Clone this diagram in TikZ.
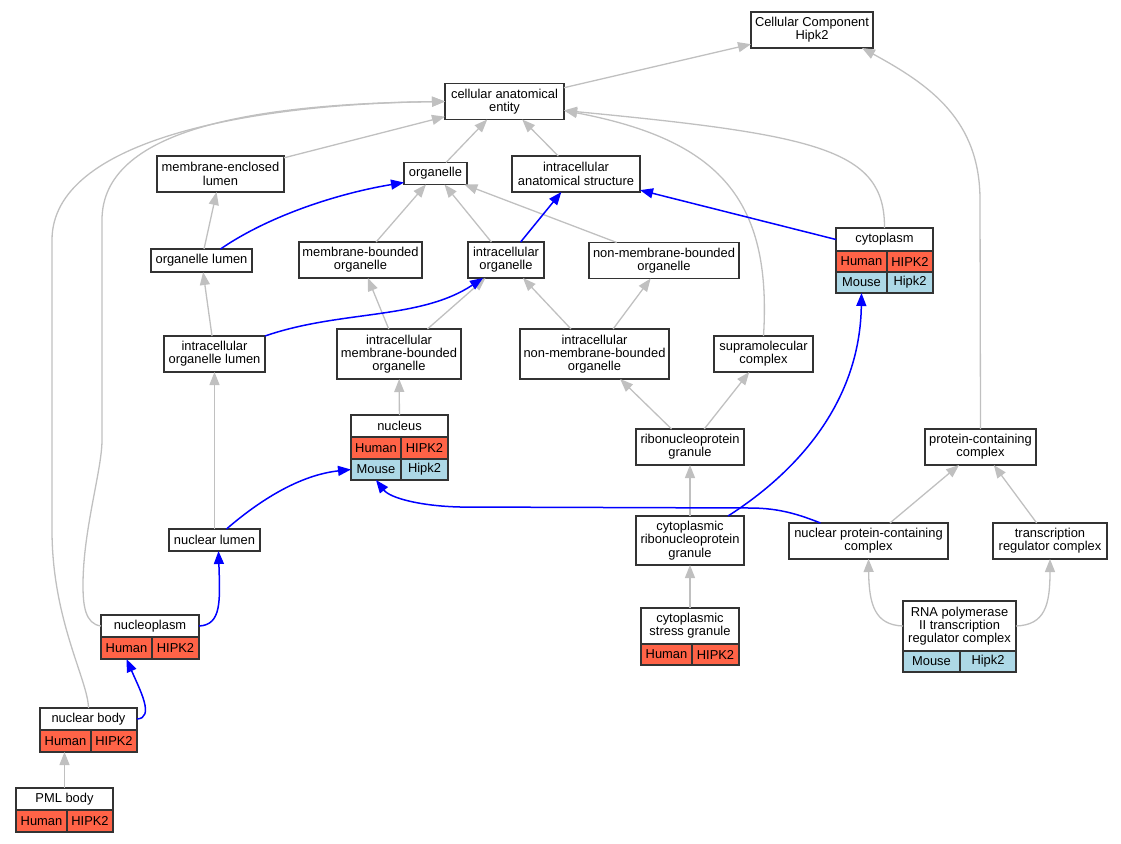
\documentclass[tikz,border=0pt]{standalone}
\usepackage{fontspec}
\setmainfont{Liberation Sans}
\usetikzlibrary{arrows.meta,positioning}
\definecolor{humanred}{HTML}{FF6347}
\definecolor{mouseblue}{HTML}{ADD8E6}
\definecolor{isagray}{HTML}{C0C0C0}
\tikzset{
    term/.style={draw=black!80, line width=1.3pt, fill=white, align=center, inner sep=0pt, outer sep=0pt, font=\fontsize{12.9}{13.3}\selectfont},
    humancell/.style={term, fill=humanred, minimum height=22pt},
    mousecell/.style={term, fill=mouseblue, minimum height=21pt},
    isa/.style={color=isagray, line width=1.3pt, -{Triangle[length=13pt,width=10pt]}},
    partof/.style={color=blue, line width=1.5pt, -{Triangle[length=13pt,width=10pt]}},
}
\begin{document}
\begin{tikzpicture}[x=1pt,y=-1pt]
    \useasboundingbox (0,0) rectangle (1121,843);

    \node[term, minimum width=122pt, minimum height=36pt] (cc) at (812,30) {Cellular Component\\Hipk2};
    \node[term, minimum width=119pt, minimum height=36pt] (entity) at (504.5,101.5) {cellular anatomical\\entity};
    \node[term, minimum width=63pt, minimum height=22pt] (organelle) at (435.5,173.5) {organelle};
    \node[term, minimum width=128pt, minimum height=36pt] (ias) at (576,174) {intracellular\\anatomical structure};
    \node[term, minimum width=127pt, minimum height=36pt] (mel) at (220.5,174) {membrane-enclosed\\lumen};
    \node[term, minimum width=101pt, minimum height=23pt] (olumen) at (201.5,260.5) {organelle lumen};
    \node[term, minimum width=123pt, minimum height=36pt] (mbo) at (360.5,260) {membrane-bounded\\organelle};
    \node[term, minimum width=76pt, minimum height=36pt] (io) at (506,260) {intracellular\\organelle};
    \node[term, minimum width=150pt, minimum height=36pt] (nmbo) at (664,260.5) {non-membrane-bounded\\organelle};
    \node[term, minimum width=97pt, minimum height=23pt] (cytoplasm) at (884.5,239.5) {cytoplasm};
    \node[humancell, minimum width=51pt, minimum height=21pt, anchor=north west] (cytoplasm-h1) at (cytoplasm.south west) {Human};
    \node[humancell, minimum width=46pt, minimum height=21pt, anchor=north west] (cytoplasm-h2) at (cytoplasm-h1.north east) {HIPK2};
    \node[mousecell, minimum width=51pt, anchor=north west] (cytoplasm-m1) at (cytoplasm-h1.south west) {Mouse};
    \node[mousecell, minimum width=46pt, anchor=north west] (cytoplasm-m2) at (cytoplasm-m1.north east) {Hipk2};
    \node[term, minimum width=101pt, minimum height=36pt] (iol) at (214.5,354) {intracellular\\organelle lumen};
    \node[term, minimum width=124pt, minimum height=50pt] (imbo) at (399,354) {intracellular\\membrane-bounded\\organelle};
    \node[term, minimum width=149pt, minimum height=50pt] (inmbo) at (594.5,354) {intracellular\\non-membrane-bounded\\organelle};
    \node[term, minimum width=99pt, minimum height=36pt] (supra) at (763.5,354) {supramolecular\\complex};
    \node[term, minimum width=97pt, minimum height=22pt] (nucleus) at (399.5,426) {nucleus};
    \node[humancell, minimum width=50pt, anchor=north west] (nucleus-h1) at (nucleus.south west) {Human};
    \node[humancell, minimum width=47pt, anchor=north west] (nucleus-h2) at (nucleus-h1.north east) {HIPK2};
    \node[mousecell, minimum width=50pt, anchor=north west] (nucleus-m1) at (nucleus-h1.south west) {Mouse};
    \node[mousecell, minimum width=47pt, anchor=north west] (nucleus-m2) at (nucleus-m1.north east) {Hipk2};
    \node[term, minimum width=108pt, minimum height=36pt] (rnpg) at (690,447) {ribonucleoprotein\\granule};
    \node[term, minimum width=111pt, minimum height=36pt] (pcc) at (980.5,447) {protein-containing\\complex};
    \node[term, minimum width=91pt, minimum height=22pt] (nlumen) at (214.5,540) {nuclear lumen};
    \node[term, minimum width=108pt, minimum height=49pt] (crnpg) at (690,540.5) {cytoplasmic\\ribonucleoprotein\\granule};
    \node[term, minimum width=159pt, minimum height=36pt] (npcc) at (868.5,541) {nuclear protein-containing\\complex};
    \node[term, minimum width=114pt, minimum height=36pt] (trc) at (1050,541) {transcription\\regulator complex};
    \node[term, minimum width=98pt, minimum height=22pt] (nucleoplasm) at (150,626) {nucleoplasm};
    \node[humancell, minimum width=51pt, anchor=north west] (nucleoplasm-h1) at (nucleoplasm.south west) {Human};
    \node[humancell, minimum width=47pt, anchor=north west] (nucleoplasm-h2) at (nucleoplasm-h1.north east) {HIPK2};
    \node[term, minimum width=98pt, minimum height=36pt] (csg) at (690,626) {cytoplasmic\\stress granule};
    \node[humancell, minimum width=51pt, minimum height=21pt, anchor=north west] (csg-h1) at (csg.south west) {Human};
    \node[humancell, minimum width=47pt, minimum height=21pt, anchor=north west] (csg-h2) at (csg-h1.north east) {HIPK2};
    \node[term, minimum width=113pt, minimum height=50pt] (rnapol) at (959.5,626) {RNA polymerase\\II transcription\\regulator complex};
    \node[mousecell, minimum width=57pt, anchor=north west] (rnapol-m1) at (rnapol.south west) {Mouse};
    \node[mousecell, minimum width=56pt, anchor=north west] (rnapol-m2) at (rnapol-m1.north east) {Hipk2};
    \node[term, minimum width=97pt, minimum height=22pt] (nbody) at (88.5,719) {nuclear body};
    \node[humancell, minimum width=51pt, anchor=north west] (nbody-h1) at (nbody.south west) {Human};
    \node[humancell, minimum width=46pt, anchor=north west] (nbody-h2) at (nbody-h1.north east) {HIPK2};
    \node[term, minimum width=97pt, minimum height=22pt] (pml) at (64.5,799) {PML body};
    \node[humancell, minimum width=51pt, anchor=north west] (pml-h1) at (pml.south west) {Human};
    \node[humancell, minimum width=46pt, anchor=north west] (pml-h2) at (pml-h1.north east) {HIPK2};

    \draw[isa] (entity) -- (cc);
    \draw[isa] (mel) -- (entity);
    \draw[isa] (organelle) -- (entity);
    \draw[isa] (ias) -- (entity);
    \draw[isa] (supra.north) .. controls (772,200) and (720,140) .. ([yshift=-9pt]entity.east);
    \draw[isa] (cytoplasm.north) .. controls (885,150) and (820,135) .. ([yshift=-9pt]entity.east);
    \draw[isa] (nucleoplasm.west) .. controls (85,624) and (83,605) .. (83,585) .. controls (83,530) and (102,470) .. (102,440) -- (102,220) .. controls (102,130) and (250,104) .. (entity.west);
    \draw[isa] (nbody.north) .. controls (88,680) and (52,620) .. (52,530) -- (52,240) .. controls (52,140) and (250,104) .. (entity.west);
    \draw[isa] (pcc.north) -- (980,200) .. controls (980,120) and (930,85) .. ([xshift=50pt]cc.south);
    \draw[isa] (olumen) -- (mel);
    \draw[isa] (mbo) -- (organelle);
    \draw[isa] (io) -- (organelle);
    \draw[isa] (nmbo) -- (organelle);
    \draw[isa] (iol) -- (olumen);
    \draw[isa] (imbo) -- (io);
    \draw[isa] (imbo) -- (mbo);
    \draw[isa] (inmbo) -- (io);
    \draw[isa] (inmbo) -- (nmbo);
    \draw[isa] (nucleus) -- (imbo);
    \draw[isa] (nlumen) -- (iol);
    \draw[isa] (rnpg) -- (inmbo);
    \draw[isa] (rnpg) -- (supra);
    \draw[isa] (crnpg) -- (rnpg);
    \draw[isa] (csg) -- (crnpg);
    \draw[isa] (pml) -- (pml |- nbody-h1.south);
    \draw[isa] (npcc) -- (pcc);
    \draw[isa] (trc) -- (pcc);
    \draw[isa] (rnapol.west) .. controls (875,625) and (869,605) .. (npcc.south);
    \draw[isa] (rnapol.east) .. controls (1045,625) and (1050,605) .. (trc.south);

    \draw[partof] ([xshift=19pt]olumen.north) .. controls (270,215) and (340,193) .. ([yshift=-9pt]organelle.west);
    \draw[partof] (io) -- (ias);
    \draw[partof] (cytoplasm.west) -- (ias);
    \draw[partof] (iol.north east) .. controls (340,310) and (420,320) .. ([xshift=-23pt]io.south);
    \draw[partof] ([xshift=38pt]crnpg.north) .. controls (800,470) and (860,400) .. (cytoplasm-m1.south);
    \draw[partof] ([xshift=12pt]nlumen.north) .. controls (260,500) and (300,475) .. (nucleus-m1.west);
    \draw[partof] ([xshift=-48pt]npcc.north) .. controls (800,515) and (780,508) .. (750,508) -- (460,507) .. controls (420,506) and (390,498) .. (nucleus-m1.south);
    \draw[partof] (nucleoplasm.east) .. controls (222,625) and (220,600) .. ([xshift=4pt]nlumen.south);
    \draw[partof] (nbody.east) .. controls (155,718) and (140,690) .. (nucleoplasm-h1.south);
\end{tikzpicture}
\end{document}
